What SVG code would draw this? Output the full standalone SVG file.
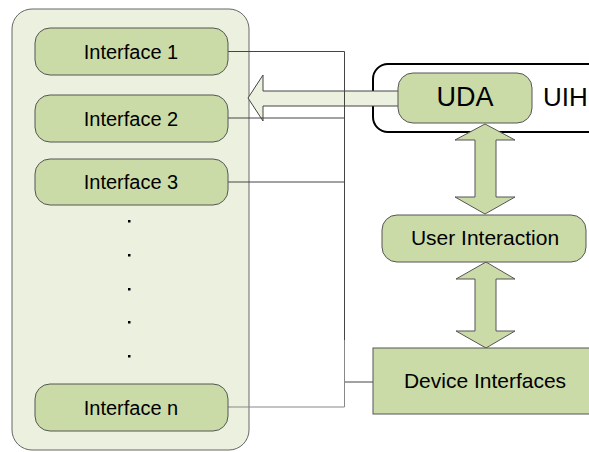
<svg xmlns="http://www.w3.org/2000/svg" width="589" height="452" viewBox="0 0 589 452">
<defs>
<style>
text{font-family:"Liberation Sans",Arial,sans-serif;fill:#000;text-anchor:middle}
.node{fill:#cbdba7;stroke:#555;stroke-width:1}
.iface{font-size:20px}
.big{font-size:21px}
.conn{fill:none;stroke:#444;stroke-width:1}
.arrow{fill:#cbdba7;stroke:#555;stroke-width:1}
</style>
</defs>
<rect width="589" height="452" fill="#fff"/>
<g id="container">
<rect x="12" y="9" width="237" height="441" rx="20" fill="#ebf1de" stroke="#666" stroke-width="1"/>
</g>
<g id="uih">
<rect x="373" y="64" width="232" height="68" rx="15" fill="#fff" stroke="#000" stroke-width="2"/>
<text x="543" y="106" style="font-size:26px;text-anchor:start">UIH</text>
</g>
<g id="arrows">
<path d="M248,98 L263,75 L263,91 L402,91 L402,106 L263,106 L263,121 Z" fill="#ebf1de" stroke="#444" stroke-width="1"/>
<path class="arrow" d="M485,124 L455,140 L475,140 L475,197 L455,197 L485,214 L515,197 L496,197 L496,140 L515,140 Z"/>
<path class="arrow" d="M486,262 L456,279 L475,279 L475,331 L456,331 L486,348 L515,331 L496,331 L496,279 L515,279 Z"/>
</g>
<g id="connectors">
<path class="conn" d="M228,51.5 H344.5 V382 H373"/>
<path class="conn" d="M228,118 H344.5"/>
<path class="conn" d="M228,182 H344.5"/>
<path class="conn" d="M228,407 H344.5 V340" style="stroke:#888"/>
</g>
<g id="interface1">
<rect class="node" x="35" y="28" width="193" height="47" rx="15"/>
<text class="iface" x="131" y="58.5">Interface 1</text>
</g>
<g id="interface2">
<rect class="node" x="35" y="95" width="193" height="47" rx="15"/>
<text class="iface" x="131" y="125.5">Interface 2</text>
</g>
<g id="interface3">
<rect class="node" x="35" y="159" width="193" height="46" rx="15"/>
<text class="iface" x="131" y="189">Interface 3</text>
</g>
<g id="dots" fill="#000">
<rect x="128" y="220" width="2.5" height="2.5"/>
<rect x="128" y="254" width="2.5" height="2.5"/>
<rect x="128" y="288" width="2.5" height="2.5"/>
<rect x="128" y="321" width="2.5" height="2.5"/>
<rect x="128" y="355" width="2.5" height="2.5"/>
</g>
<g id="interfacen">
<rect class="node" x="35" y="384" width="193" height="47" rx="15"/>
<text class="iface" x="131" y="414.5">Interface n</text>
</g>
<g id="uda">
<rect class="node" x="398" y="73" width="134" height="50" rx="15"/>
<text x="465" y="106" style="font-size:27px">UDA</text>
</g>
<g id="userinteraction">
<rect class="node" x="382" y="215" width="204" height="47" rx="15"/>
<text class="big" x="485" y="245">User Interaction</text>
</g>
<g id="deviceinterfaces">
<rect class="node" x="373" y="348" width="222" height="66"/>
<text class="big" x="485" y="388">Device Interfaces</text>
</g>
</svg>
